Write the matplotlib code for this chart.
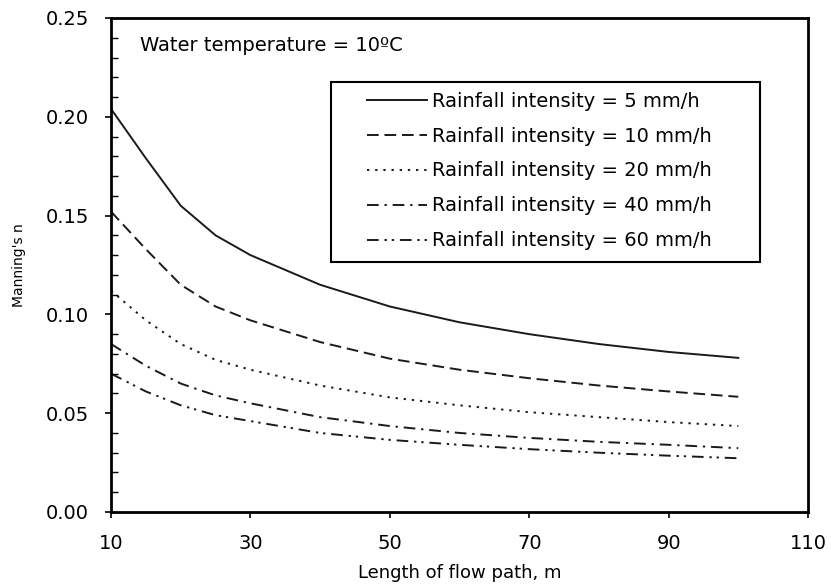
import matplotlib.pyplot as plt
from matplotlib.ticker import MultipleLocator
from matplotlib.patches import Rectangle

plt.rcParams['font.family'] = ['DejaVu Sans']

# Dados
length = [10, 15, 20, 25, 30, 40, 50, 60, 70, 80, 90, 100]

n_5 = [0.204, 0.179, 0.155, 0.140, 0.130, 0.115, 0.104, 0.096, 0.090, 0.085, 0.081, 0.078]
n_10 = [0.152, 0.133, 0.115, 0.104, 0.097, 0.086, 0.0776, 0.072, 0.0677, 0.064, 0.061, 0.0583]
n_20 = [0.112, 0.097, 0.085, 0.077, 0.072, 0.064, 0.058, 0.054, 0.0505, 0.048, 0.0455, 0.0435]
n_40 = [0.085, 0.074, 0.065, 0.059, 0.055, 0.048, 0.0435, 0.040, 0.0375, 0.0355, 0.034, 0.0323]
n_60 = [0.070, 0.061, 0.054, 0.049, 0.046, 0.040, 0.0365, 0.034, 0.0318, 0.030, 0.0285, 0.0272]

labels = ['Rainfall intensity = 5 mm/h', 'Rainfall intensity = 10 mm/h',
          'Rainfall intensity = 20 mm/h', 'Rainfall intensity = 40 mm/h',
          'Rainfall intensity = 60 mm/h']

estilos = ['-', (0, (6, 3)), (0, (1.2, 3)), (0, (6, 3, 1.2, 3)),
           (0, (6, 3, 1.2, 2.5, 1.2, 3))]

fig = plt.figure(figsize=(8.31, 5.84), dpi=100)
ax = fig.add_axes([0.1336, 0.1233, 0.8387, 0.8459])

for serie, lab, ls in zip([n_5, n_10, n_20, n_40, n_60], labels, estilos):
    ax.plot(length, serie, color='#1a1a1a', linestyle=ls, linewidth=1.4, label=lab)

ax.set_xlim(10, 110)
ax.set_ylim(0, 0.25)
ax.set_xticks([10, 30, 50, 70, 90, 110])
ax.yaxis.set_major_locator(MultipleLocator(0.05))
ax.yaxis.set_minor_locator(MultipleLocator(0.01))
ax.yaxis.set_major_formatter(plt.FormatStrFormatter('%.2f'))
ax.tick_params(axis='both', which='major', direction='out', length=4, width=1.2,
               labelsize=14)
ax.tick_params(axis='y', which='major', pad=12)
ax.tick_params(axis='x', which='major', pad=12)
ax.tick_params(axis='y', which='minor', direction='in', length=5, width=1)
for s in ax.spines.values():
    s.set_linewidth(2)

ax.set_xlabel('Length of flow path, m', fontsize=13, labelpad=8)
ax.set_ylabel("Manning's n", fontsize=10, labelpad=14)

ax.text(0.042, 0.945, 'Water temperature = 10ºC', transform=ax.transAxes,
        fontsize=14, va='center', ha='left')

# caixa da legenda
ax.add_patch(Rectangle((0.3156, 0.506), 0.6154, 0.364, transform=ax.transAxes,
                       facecolor='white', edgecolor='black', linewidth=1.5, zorder=3))
leg = ax.legend(loc='upper left', bbox_to_anchor=(0.367, 0.851), fontsize=14,
                handlelength=3.1, handletextpad=0.25, labelspacing=0.82,
                borderpad=0, frameon=False, borderaxespad=0)
leg.set_zorder(4)

plt.savefig('out.png', dpi=100)
